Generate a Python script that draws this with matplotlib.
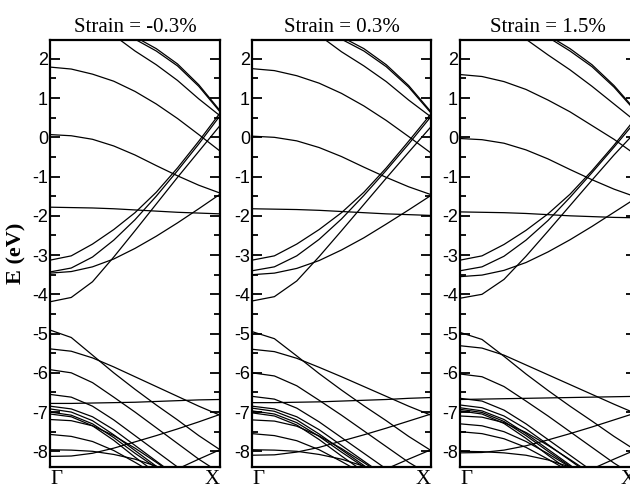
import matplotlib
matplotlib.use('Agg')
import matplotlib.pyplot as plt
from matplotlib.ticker import MultipleLocator

plt.rcParams['axes.unicode_minus'] = False

# k path Gamma -> X, sampled at 9 points
k = [0, 0.125, 0.25, 0.375, 0.5, 0.625, 0.75, 0.875, 1.0]

titles = ['Strain = -0.3%', 'Strain = 0.3%', 'Strain = 1.5%']

# conduction-side bands, strain -0.3%
cond_m03 = [
    [4.0, 3.9, 3.55, 3.05, 2.5, 2.2, 1.82, 1.3, 0.65],
    [4.05, 3.95, 3.6, 3.1, 2.56, 2.26, 1.87, 1.34, 0.68],
    [3.5, 3.4, 3.1, 2.6, 2.2, 1.85, 1.45, 0.98, 0.55],
    [1.79, 1.74, 1.61, 1.43, 1.17, 0.85, 0.48, 0.07, -0.35],
    [0.07, 0.04, -0.05, -0.22, -0.45, -0.72, -0.98, -1.22, -1.42],
    [-1.78, -1.79, -1.8, -1.82, -1.85, -1.88, -1.91, -1.93, -1.95],
    [-3.13, -3.02, -2.72, -2.35, -1.92, -1.4, -0.78, -0.1, 0.62],
    [-3.43, -3.33, -3.05, -2.62, -2.1, -1.5, -0.85, -0.17, 0.55],
    [-3.46, -3.42, -3.3, -3.1, -2.83, -2.52, -2.18, -1.82, -1.45],
    [-4.19, -4.08, -3.68, -3.05, -2.38, -1.7, -1.02, -0.36, 0.3],
]

# valence-side bands, strain -0.3%
val_m03 = [
    [-4.91, -5.1, -5.55, -6.0, -6.42, -6.82, -7.2, -7.6, -7.96],
    [-5.39, -5.45, -5.62, -5.85, -6.1, -6.35, -6.6, -6.85, -7.08],
    [-5.92, -6.0, -6.25, -6.62, -7.0, -7.4, -7.8, -8.2, -8.55],
    [-6.55, -6.62, -6.85, -7.2, -7.6, -8.0, -8.4, -8.8, -9.2],
    [-6.78, -6.78, -6.77, -6.76, -6.75, -6.73, -6.71, -6.69, -6.68],
    [-6.85, -6.92, -7.12, -7.45, -7.85, -8.25, -8.65, -9.05, -9.4],
    [-6.92, -7.0, -7.22, -7.58, -7.98, -8.38, -8.8, -9.2, -9.6],
    [-7.0, -7.08, -7.3, -7.65, -8.05, -8.42, -8.8, -9.2, -9.6],
    [-7.05, -7.12, -7.35, -7.72, -8.15, -8.55, -8.95, -9.35, -9.7],
    [-7.19, -7.22, -7.35, -7.6, -7.92, -8.28, -8.65, -9.0, -9.35],
    [-7.57, -7.62, -7.75, -7.98, -8.28, -8.6, -8.95, -9.3, -9.6],
    [-7.96, -7.97, -8.0, -8.08, -8.2, -8.38, -8.6, -8.85, -9.1],
    [-8.13, -8.12, -8.05, -7.92, -7.76, -7.6, -7.43, -7.25, -7.06],
    [-10.0, -9.75, -9.5, -9.25, -9.0, -8.72, -8.45, -8.2, -7.96],
]

# strain 0.3%
cond_p03 = [
    [4.0, 3.9, 3.55, 3.05, 2.5, 2.2, 1.8, 1.28, 0.62],
    [4.05, 3.95, 3.6, 3.1, 2.56, 2.26, 1.85, 1.32, 0.65],
    [3.5, 3.4, 3.1, 2.6, 2.18, 1.82, 1.42, 0.95, 0.52],
    [1.75, 1.7, 1.57, 1.38, 1.12, 0.8, 0.43, 0.02, -0.4],
    [0.03, 0.0, -0.09, -0.26, -0.49, -0.76, -1.02, -1.26, -1.46],
    [-1.82, -1.83, -1.84, -1.86, -1.89, -1.92, -1.95, -1.97, -1.99],
    [-3.13, -3.02, -2.72, -2.35, -1.92, -1.4, -0.78, -0.1, 0.6],
    [-3.4, -3.3, -3.02, -2.6, -2.08, -1.48, -0.84, -0.17, 0.53],
    [-3.5, -3.46, -3.34, -3.14, -2.87, -2.56, -2.21, -1.85, -1.48],
    [-4.17, -4.06, -3.66, -3.04, -2.38, -1.71, -1.04, -0.38, 0.27],
]

val_p03 = [
    [-4.95, -5.13, -5.57, -6.02, -6.44, -6.84, -7.22, -7.62, -7.98],
    [-5.4, -5.46, -5.63, -5.86, -6.1, -6.35, -6.6, -6.85, -7.08],
    [-6.0, -6.08, -6.33, -6.7, -7.08, -7.48, -7.88, -8.28, -8.62],
    [-6.6, -6.67, -6.9, -7.25, -7.65, -8.05, -8.45, -8.85, -9.25],
    [-6.76, -6.76, -6.75, -6.74, -6.72, -6.7, -6.68, -6.65, -6.63],
    [-6.85, -6.92, -7.12, -7.45, -7.85, -8.25, -8.65, -9.05, -9.4],
    [-6.9, -6.98, -7.2, -7.56, -7.96, -8.36, -8.78, -9.2, -9.6],
    [-6.97, -7.05, -7.27, -7.62, -8.02, -8.4, -8.8, -9.2, -9.6],
    [-7.02, -7.1, -7.33, -7.7, -8.12, -8.52, -8.92, -9.32, -9.7],
    [-7.2, -7.23, -7.36, -7.61, -7.93, -8.29, -8.66, -9.0, -9.35],
    [-7.55, -7.6, -7.73, -7.96, -8.26, -8.58, -8.93, -9.3, -9.6],
    [-7.96, -7.97, -8.0, -8.08, -8.2, -8.38, -8.6, -8.85, -9.1],
    [-8.1, -8.09, -8.02, -7.9, -7.74, -7.58, -7.41, -7.23, -7.05],
    [-10.0, -9.75, -9.5, -9.25, -9.0, -8.72, -8.45, -8.2, -7.96],
]

# strain 1.5%
cond_p15 = [
    [4.1, 4.0, 3.65, 3.1, 2.55, 2.2, 1.8, 1.28, 0.65],
    [4.15, 4.05, 3.7, 3.15, 2.6, 2.26, 1.85, 1.32, 0.68],
    [3.45, 3.3, 2.95, 2.5, 2.1, 1.72, 1.3, 0.85, 0.4],
    [1.6, 1.55, 1.42, 1.22, 0.95, 0.65, 0.3, -0.05, -0.45],
    [-0.03, -0.06, -0.15, -0.32, -0.55, -0.82, -1.08, -1.32, -1.52],
    [-1.9, -1.91, -1.92, -1.94, -1.97, -2.0, -2.02, -2.04, -2.05],
    [-3.13, -3.02, -2.73, -2.37, -1.95, -1.45, -0.85, -0.2, 0.5],
    [-3.4, -3.3, -3.03, -2.62, -2.12, -1.53, -0.9, -0.25, 0.42],
    [-3.55, -3.51, -3.39, -3.19, -2.92, -2.61, -2.27, -1.91, -1.55],
    [-4.1, -4.0, -3.62, -3.03, -2.39, -1.74, -1.09, -0.45, 0.15],
]

val_p15 = [
    [-4.97, -5.15, -5.58, -6.03, -6.45, -6.85, -7.23, -7.62, -7.98],
    [-5.31, -5.37, -5.55, -5.8, -6.05, -6.3, -6.55, -6.8, -7.04],
    [-6.03, -6.1, -6.35, -6.72, -7.1, -7.5, -7.9, -8.3, -8.65],
    [-6.65, -6.72, -6.95, -7.3, -7.7, -8.1, -8.5, -8.9, -9.3],
    [-6.68, -6.67, -6.66, -6.65, -6.64, -6.63, -6.62, -6.61, -6.6],
    [-6.82, -6.89, -7.1, -7.43, -7.83, -8.23, -8.63, -9.03, -9.4],
    [-6.89, -6.97, -7.19, -7.55, -7.95, -8.35, -8.77, -9.2, -9.6],
    [-6.93, -7.01, -7.24, -7.6, -8.0, -8.38, -8.78, -9.2, -9.6],
    [-6.97, -7.05, -7.29, -7.67, -8.1, -8.5, -8.9, -9.3, -9.7],
    [-7.1, -7.13, -7.27, -7.52, -7.85, -8.21, -8.58, -8.95, -9.3],
    [-7.3, -7.35, -7.5, -7.75, -8.06, -8.4, -8.75, -9.1, -9.45],
    [-7.5, -7.55, -7.68, -7.9, -8.2, -8.52, -8.88, -9.25, -9.6],
    [-8.0, -8.01, -8.04, -8.1, -8.22, -8.4, -8.62, -8.87, -9.1],
    [-8.04, -8.03, -7.97, -7.86, -7.71, -7.55, -7.38, -7.2, -7.02],
    [-10.0, -9.75, -9.5, -9.25, -9.0, -8.72, -8.45, -8.2, -7.96],
]

panels = [cond_m03 + val_m03, cond_p03 + val_p03, cond_p15 + val_p15]

# axes edges in pixels (left, right), figure is 630x490
edges = [(50, 220), (252, 431), (460, 636)]
top_px, bot_px = 40, 467

fig = plt.figure(figsize=(6.3, 4.9), dpi=100)

for i, (bands, title) in enumerate(zip(panels, titles)):
    l, r = edges[i]
    ax = fig.add_axes([l / 630, 1 - bot_px / 490, (r - l) / 630,
                       (bot_px - top_px) / 490])
    for b in bands:
        ax.plot(k, b, color='black', lw=0.9)
    ax.set_xlim(0, 1)
    ax.set_ylim(-8.4, 2.48)
    ax.yaxis.set_major_locator(MultipleLocator(1))
    ax.yaxis.set_minor_locator(MultipleLocator(0.5))
    ax.tick_params(axis='y', which='both', direction='in', right=True,
                   width=1.3, pad=1.5, labelsize=13)
    ax.tick_params(axis='y', which='major', length=7)
    ax.tick_params(axis='y', which='minor', length=4)
    for lab in ax.get_yticklabels():
        lab.set_family('Liberation Sans')
    ax.set_xticks([0, 1])
    ax.set_xticklabels(['Γ', 'X'], family='Liberation Serif', fontsize=15)
    ax.get_xticklabels()[0].set_ha('left')
    ax.get_xticklabels()[1].set_ha('right')
    ax.tick_params(axis='x', length=0, pad=2)
    for s in ax.spines.values():
        s.set_linewidth(1.6)
    ax.set_title(title, family='Liberation Serif', fontsize=15, pad=6)

fig.text(16 / 630, 1 - 253 / 490, 'E (eV)', rotation=90, ha='center',
         va='center', family='Liberation Serif', fontweight='bold',
         fontsize=16)

plt.savefig('out.png', dpi=100)
